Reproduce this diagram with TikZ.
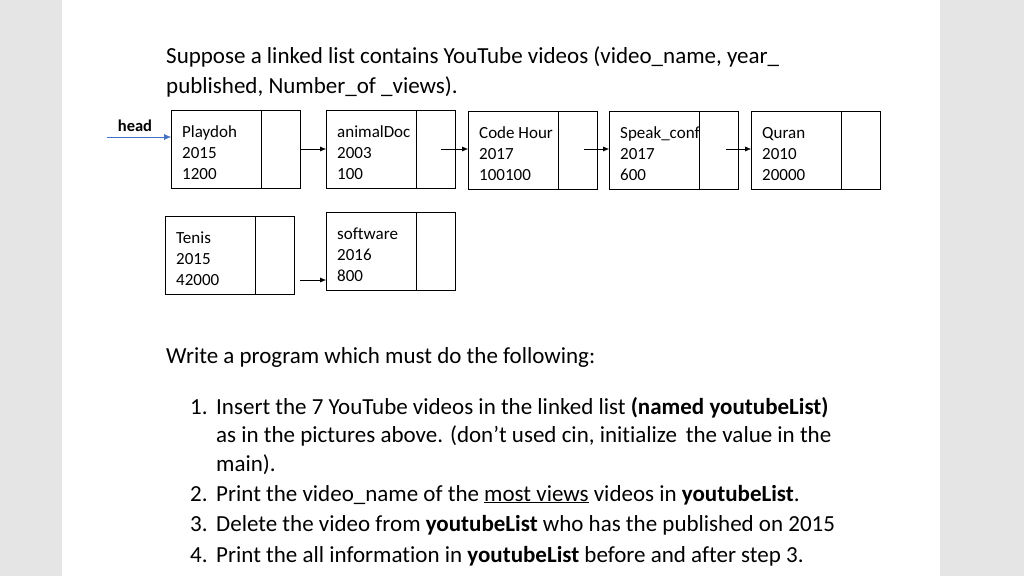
\documentclass[tikz,border=0pt]{standalone}
\usepackage{fontspec}
\setmainfont[Ligatures=NoCommon]{Carlito}
\usetikzlibrary{arrows.meta}
\begin{document}
\begin{tikzpicture}[x=1pt,y=-1pt,
  txt/.style={anchor=base west,inner sep=0pt,font=\fontsize{23}{27}\selectfont},
  cell/.style={anchor=base west,inner sep=0pt,font=\fontsize{17}{19}\selectfont,align=left},
  lnk/.style={-{Latex[length=6pt,width=5pt]},thin}]
\fill[gray!20] (0,0) rectangle (1024,576);
\fill[white] (62,0) rectangle (940,576);
\useasboundingbox (0,0) rectangle (1024,576);
% boxes
\newcommand{\lbox}[7]{%
  \draw[thick] (#2,#3) rectangle (#2+129,#3+78);
  \draw (#2+90,#3) -- (#2+90,#3+78);
  \coordinate (#1w) at (#2,#3+39);
  \coordinate (#1p) at (#2+115,#3+39);
  \node[cell] (#1a) at (#2+11,#3+27) {#5};
  \node[cell] (#1b) at (#2+11,#3+48) {#6};
  \node[cell] (#1c) at (#2+11,#3+69) {#7};}
\lbox{A}{171}{110}{}{Playdoh}{2015}{1200}
\lbox{B}{326}{110}{}{animalDoc}{2003}{100}
\lbox{C}{468}{111}{}{Code Hour}{2017}{100100}
\lbox{D}{609}{111}{}{Speak\_conf}{2017}{600}
\lbox{E}{751}{111}{}{Quran}{2010}{20000}
\lbox{F}{165}{216}{}{Tenis}{2015}{42000}
\lbox{G}{326}{212}{}{software}{2016}{800}
\coordinate (hs) at (107,137);
\coordinate (he) at (171,137);
\draw[-{Latex[length=7pt,width=6pt]},color={rgb,255:red,68;green,114;blue,196}] (hs) -- (he);
\node[anchor=base,inner sep=0pt,font=\fontsize{16.5}{18}\selectfont\bfseries] (hd) at (135,131) {head};
\coordinate (a1) at (301,149); \coordinate (a2) at (326,149);
\coordinate (b1) at (441,149); \coordinate (b2) at (468,149);
\coordinate (c1) at (584,149); \coordinate (c2) at (609,149);
\coordinate (d1) at (726,149); \coordinate (d2) at (751,149);
\coordinate (e1) at (300,280); \coordinate (e2) at (326,280);
\foreach \s/\t in {a1/a2,b1/b2,c1/c2,d1/d2,e1/e2} \draw[lnk] (\s) -- (\t);
% text
\node[txt] (t1) at (166,63) {Suppose a linked list contains YouTube videos (video\_name, year\_};
\node[txt] (t2) at (166,93) {published, Number\_of \_views).};
\node[txt] (t3) at (166,363) {Write a program which must do the following:};
\node[txt] (n1) at (190,414) {1.};
\node[txt] (l1) at (216,414) {Insert the 7 YouTube videos in the linked list \textbf{(named youtubeList)}};
\node[txt] (l1b) at (216,442) {as in the pictures above. (don’t used cin, initialize\, the value in the};
\node[txt] (l1c) at (216,471) {main).};
\node[txt] (n2) at (190,501) {2.};
\node[txt] (l2) at (216,501) {Print the video\_name of the \underline{most views} videos in \textbf{youtubeList}.};
\node[txt] (n3) at (190,531) {3.};
\node[txt] (l3) at (216,531) {Delete the video from \textbf{youtubeList} who has the published on 2015};
\node[txt] (n4) at (190,562) {4.};
\node[txt] (l4) at (216,562) {Print the all information in \textbf{youtubeList} before and after step 3.};
\end{tikzpicture}
\end{document}
